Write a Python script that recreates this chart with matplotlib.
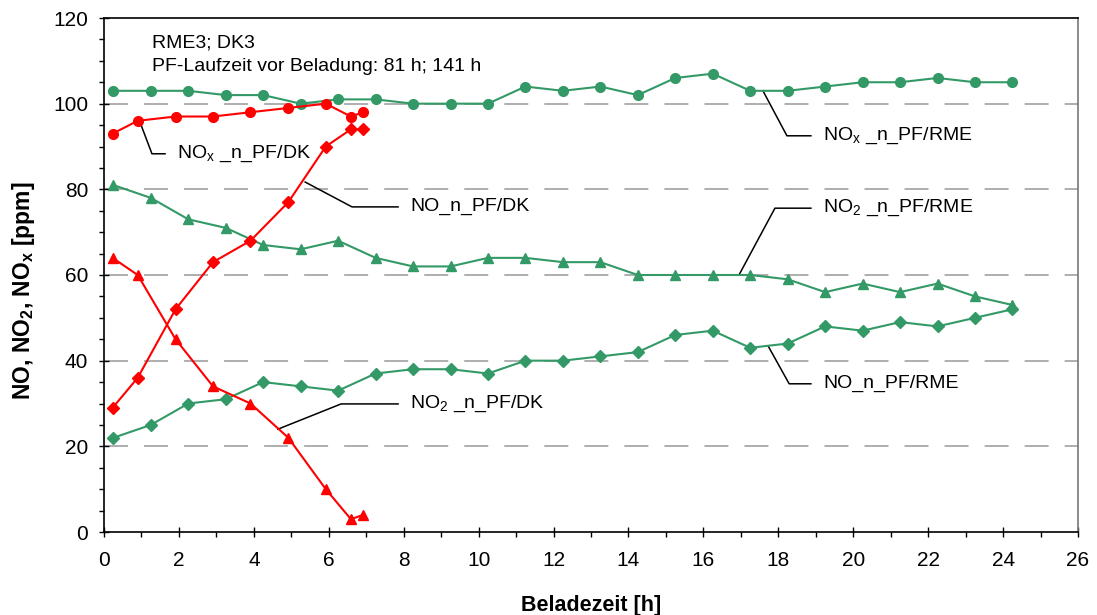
import matplotlib
matplotlib.use("Agg")
import matplotlib.pyplot as plt
from matplotlib.ticker import MultipleLocator

plt.rcParams['font.family'] = ['Liberation Sans', 'DejaVu Sans']
plt.rcParams['mathtext.fontset'] = 'custom'
plt.rcParams['mathtext.rm'] = 'Liberation Sans'
plt.rcParams['mathtext.bf'] = 'Liberation Sans:bold'

# RME series
t_rme = [0.25, 1.25, 2.25, 3.25, 4.25, 5.25, 6.25, 7.25, 8.25, 9.25, 10.25, 11.25,
         12.25, 13.25, 14.25, 15.25, 16.25, 17.25, 18.25, 19.25, 20.25, 21.25, 22.25,
         23.25, 24.25]
nox_rme = [103, 103, 103, 102, 102, 100, 101, 101, 100, 100, 100, 104, 103, 104, 102,
           106, 107, 103, 103, 104, 105, 105, 106, 105, 105]
no2_rme = [81, 78, 73, 71, 67, 66, 68, 64, 62, 62, 64, 64, 63, 63, 60, 60, 60, 60, 59,
           56, 58, 56, 58, 55, 53]
no_rme = [22, 25, 30, 31, 35, 34, 33, 37, 38, 38, 37, 40, 40, 41, 42, 46, 47, 43, 44,
          48, 47, 49, 48, 50, 52]

# DK series
t_dk = [0.23, 0.9, 1.91, 2.91, 3.91, 4.92, 5.92, 6.59, 6.92]
nox_dk = [93, 96, 97, 97, 98, 99, 100, 97, 98]
no_dk = [29, 36, 52, 63, 68, 77, 90, 94, 94]
no2_dk = [64, 60, 45, 34, 30, 22, 10, 3, 4]

green = '#339966'
red = '#ff0000'

fig = plt.figure(figsize=(10.97, 6.15), dpi=100)
ax = fig.add_axes([104/1097, 1-532/615, (1078-104)/1097, (532-18)/615])

for y in [20, 40, 60, 80, 100]:
    ax.axhline(y, color='#999999', lw=1.1, dashes=(15.7, 10.5), zorder=1)

lw = 1.5
ax.plot(t_rme, nox_rme, color=green, marker='o', ms=7, lw=lw, zorder=3)
ax.plot(t_rme, no2_rme, color=green, marker='^', ms=7.5, lw=lw, zorder=3)
ax.plot(t_rme, no_rme, color=green, marker='D', ms=6, lw=lw, zorder=3)
ax.plot(t_dk, nox_dk, color=red, marker='o', ms=7, lw=lw, zorder=3)
ax.plot(t_dk, no_dk, color=red, marker='D', ms=6, lw=lw, zorder=3)
ax.plot(t_dk, no2_dk, color=red, marker='^', ms=7.5, lw=lw, zorder=3)

ax.set_xlim(0, 26)
ax.set_ylim(0, 120)
ax.xaxis.set_major_locator(MultipleLocator(2))
ax.xaxis.set_minor_locator(MultipleLocator(1))
ax.yaxis.set_major_locator(MultipleLocator(20))
ax.yaxis.set_minor_locator(MultipleLocator(5))
ax.tick_params(axis='both', which='major', direction='inout', length=7, width=1,
               labelsize=15)
ax.tick_params(axis='y', which='major', pad=8)
ax.tick_params(axis='x', which='major', pad=10)
ax.tick_params(axis='both', which='minor', direction='out', length=3.6, width=1)
for s in ax.spines.values():
    s.set_linewidth(1.2)
    s.set_color('black')
ax.spines['right'].set_color('#777777')

fig.text(591/1097, 1-605/615, 'Beladezeit [h]', fontsize=15.5, fontweight='bold',
         ha='center', va='center')
fig.text(24/1097, 1-291/615, r'NO, NO$_\mathbf{2}$, NO$_\mathbf{x}$ [ppm]', fontsize=16.5,
         fontweight='bold', ha='center', va='center', rotation=90)

# annotations: (line points, label)
def label(pts, text):
    xs = [p[0] for p in pts]
    ys = [p[1] for p in pts]
    ax.plot(xs, ys, color='black', lw=1.1, zorder=2)
    ax.text(xs[-1] + 0.33, ys[-1], text, fontsize=14, va='center', ha='left')

label([(0.96, 95.7), (1.28, 88.3), (1.63, 88.3)], r'NO$_\mathrm{x}$ _n_PF/DK')
label([(5.37, 81.7), (6.62, 75.9), (7.85, 75.9)], 'NO_n_PF/DK')
label([(4.64, 24.0), (6.33, 29.9), (7.85, 29.9)], r'NO$_\mathrm{2}$ _n_PF/DK')
label([(17.59, 103.0), (18.23, 92.5), (18.87, 92.5)], r'NO$_\mathrm{x}$ _n_PF/RME')
label([(16.95, 60.0), (17.91, 75.6), (18.87, 75.6)], r'NO$_\mathrm{2}$ _n_PF/RME')
label([(17.73, 43.4), (18.29, 34.6), (18.87, 34.6)], 'NO_n_PF/RME')

ax.text(1.28, 114.2, 'RME3; DK3', fontsize=14, va='center', ha='left')
ax.text(1.28, 108.6, 'PF-Laufzeit vor Beladung: 81 h; 141 h', fontsize=14,
        va='center', ha='left')

fig.savefig('out.png', dpi=100)
